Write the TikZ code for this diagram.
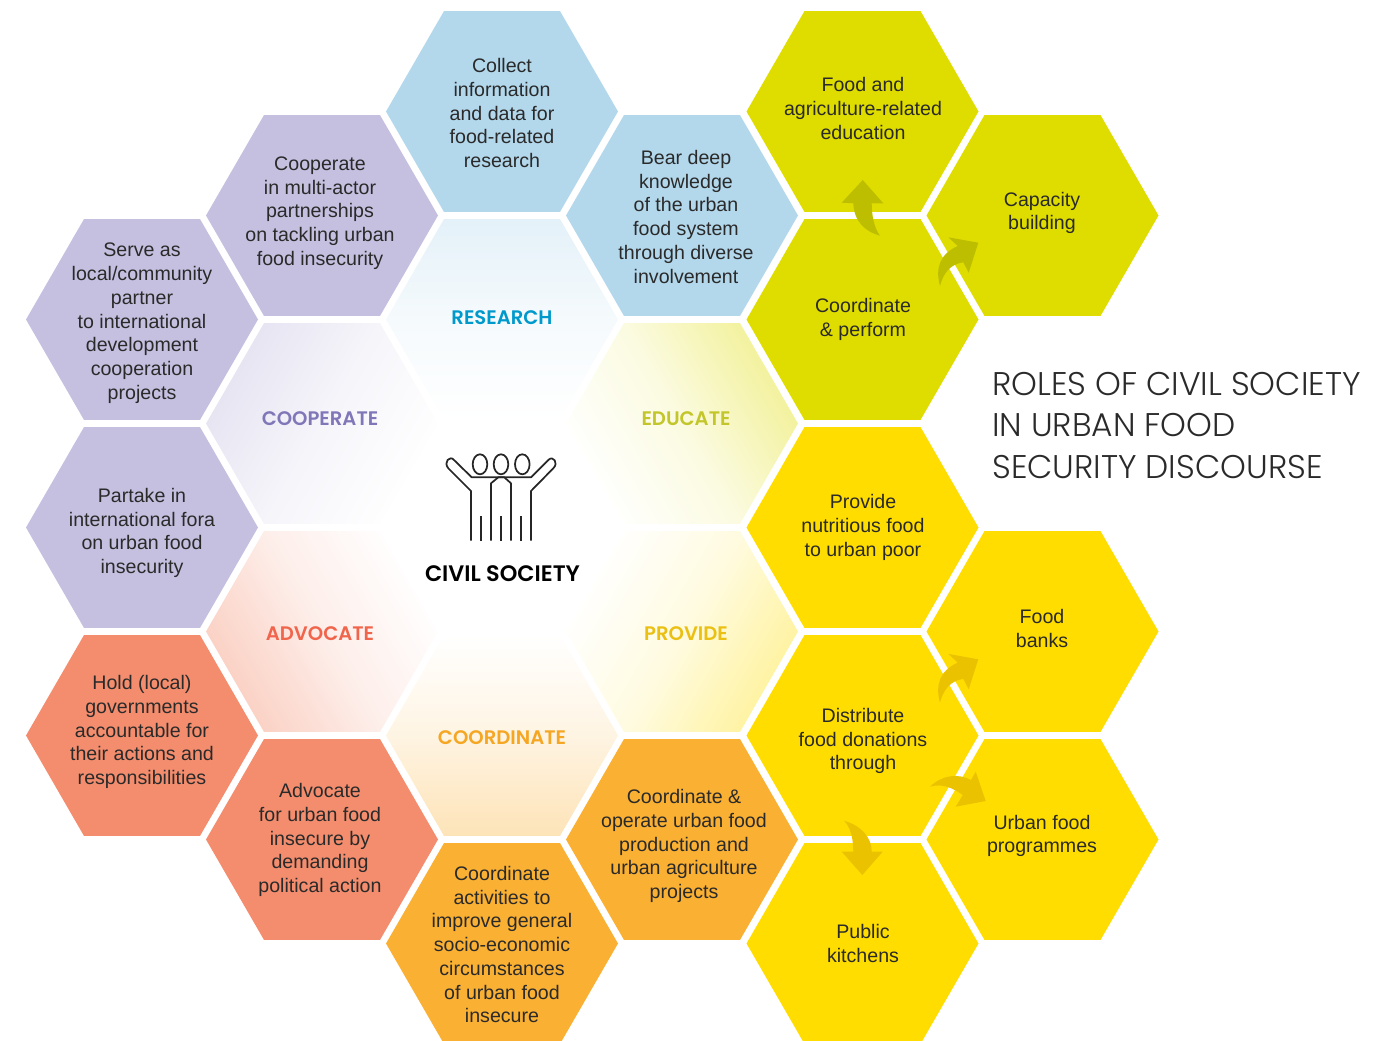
\documentclass[tikz,border=0pt]{standalone}
\usepackage{fontspec}
\setmainfont{Liberation Sans}
\newfontfamily\headfont{Poppins Light}
\newfontfamily\labelfont{Poppins SemiBold}
\usetikzlibrary{shapes.geometric}
\definecolor{cblue}{HTML}{B3D8EC}
\definecolor{clav}{HTML}{C5C0E0}
\definecolor{csalm}{HTML}{F48D6E}
\definecolor{corg}{HTML}{FAB033}
\definecolor{cyel}{HTML}{FFDD00}
\definecolor{coli}{HTML}{DFDC00}
\definecolor{aoli}{HTML}{BEBE00}
\definecolor{ayel}{HTML}{EBC200}
\definecolor{ink}{HTML}{2A2A2A}
\definecolor{tresearch}{HTML}{0099CC}
\definecolor{tcooperate}{HTML}{7F77B8}
\definecolor{teducate}{HTML}{C3C62A}
\definecolor{tadvocate}{HTML}{F0654C}
\definecolor{tprovide}{HTML}{EBC014}
\definecolor{tcoordinate}{HTML}{F5A623}
\tikzset{
  hexcell/.style={regular polygon,regular polygon sides=6,minimum size=174pt,inner sep=0pt,outer sep=0pt,draw=none},
  cell/.style={text=ink,align=center,inner sep=0pt,font=\fontsize{14.7pt}{17.82pt}\selectfont},
  lab/.style={inner sep=0pt,font=\labelfont\fontsize{14.7pt}{16pt}\selectfont},
  icon/.style={draw=black!85,line width=1.3pt,line join=round,fill=none},
  blockolive/.style={fill=aoli,draw=none},
  blockyel/.style={fill=ayel,draw=none}
}
\begin{document}
\begin{tikzpicture}[x=0.75pt,y=-0.75pt]
\useasboundingbox (0,0) rectangle (1389,1041);
% outer cells
\node[hexcell,fill=cblue] (collect) at (502,111.5) {};
\node[hexcell,fill=cblue] (bear) at (682,215.5) {};
\node[hexcell,fill=clav] (coop) at (322,215.5) {};
\node[hexcell,fill=clav] (serve) at (142,319.5) {};
\node[hexcell,fill=clav] (partake) at (142,527.5) {};
\node[hexcell,fill=csalm] (hold) at (142,735.5) {};
\node[hexcell,fill=csalm] (advfor) at (322,839.5) {};
\node[hexcell,fill=corg] (coact) at (502,943.5) {};
\node[hexcell,fill=corg] (coop2) at (682,839.5) {};
\node[hexcell,fill=coli] (agri) at (862.5,111.5) {};
\node[hexcell,fill=coli] (perform) at (862.5,319.5) {};
\node[hexcell,fill=coli] (capacity) at (1042.5,215.5) {};
\node[hexcell,fill=cyel] (nutri) at (862.5,527.5) {};
\node[hexcell,fill=cyel] (distrib) at (862.5,735.5) {};
\node[hexcell,fill=cyel] (public) at (862.5,943.5) {};
\node[hexcell,fill=cyel] (banks) at (1042.5,631.5) {};
\node[hexcell,fill=cyel] (urban) at (1042.5,839.5) {};
% inner cells
\node[hexcell,top color=cblue!36,bottom color=white,middle color=cblue!13] (iresearch) at (502,319.5) {};
\node[hexcell,top color=clav!44,bottom color=white,middle color=clav!16,shading angle=60] (icoop) at (322,423.5) {};
\node[hexcell,top color=coli!40,bottom color=white,middle color=coli!12,shading angle=-60] (ieduc) at (682,423.5) {};
\node[hexcell,top color=csalm!42,bottom color=white,middle color=csalm!15,shading angle=120] (iadv) at (322,631.5) {};
\node[hexcell,top color=cyel!38,bottom color=white,middle color=cyel!12,shading angle=-120] (iprov) at (682,631.5) {};
\node[hexcell,top color=corg!35,bottom color=white,middle color=corg!14,shading angle=180] (icoord) at (502,735.5) {};
% cell texts
\node[cell] (tcollect) at (502,113.2) {Collect\\information\\and data for\\food-related\\research};
\node[cell] (tbear) at (686,216.8) {Bear deep\\knowledge\\of the urban\\food system\\through diverse\\involvement};
\node[cell] (tcoop) at (320,213) {Cooperate\\in multi-actor\\partnerships\\on tackling urban\\food insecurity};
\node[cell] (tserve) at (142,323.3) {Serve as\\local/community\\partner\\to international\\development\\cooperation\\projects};
\node[cell] (tpartake) at (142,533) {Partake in\\international fora\\on urban food\\insecurity};
\node[cell] (thold) at (142,732) {Hold (local)\\governments\\accountable for\\their actions and\\responsibilities};
\node[cell] (tadv) at (320,840) {Advocate\\for urban food\\insecure by\\demanding\\political action};
\node[cell] (tcoact) at (502,944.7) {Coordinate\\activities to\\improve general\\socio-economic\\circumstances\\of urban food\\insecure};
\node[cell] (tcoop2) at (684,846) {Coordinate \&\\operate urban food\\production and\\urban agriculture\\projects};
\node[cell] (tagri) at (863,108.5) {Food and\\agriculture-related\\education};
\node[cell] (tperf) at (863,319.3) {Coordinate\\\& perform};
\node[cell] (tcap) at (1042,213) {Capacity\\building};
\node[cell] (tnutri) at (863,527.5) {Provide\\nutritious food\\to urban poor};
\node[cell] (tdist) at (863,741) {Distribute\\food donations\\through};
\node[cell] (tbanks) at (1042,628.5) {Food\\banks};
\node[cell] (turban) at (1042,836) {Urban food\\programmes};
\node[cell] (tpublic) at (863,943.5) {Public\\kitchens};
% inner labels
\node[lab,text=tresearch] (lresearch) at (502,318) {RESEARCH};
\node[lab,text=tcooperate] (lcoop) at (320,419) {COOPERATE};
\node[lab,text=teducate] (leduc) at (686,419) {EDUCATE};
\node[lab,text=tadvocate] (ladv) at (320,634) {ADVOCATE};
\node[lab,text=tprovide] (lprov) at (686,634) {PROVIDE};
\node[lab,text=tcoordinate] (lcoord) at (502,738) {COORDINATE};
\node[inner sep=0pt,font=\labelfont\fontsize{16.8pt}{18pt}\selectfont] (lcivil) at (502.5,574) {CIVIL SOCIETY};
% title
\node[anchor=west,align=left,inner sep=0pt,text=ink,font=\headfont\fontsize{24.6pt}{31.1pt}\selectfont] (title) at (992,425.5) {ROLES OF CIVIL SOCIETY\\IN URBAN FOOD\\SECURITY DISCOURSE};
% icon
\draw[icon] (471,540.7) -- (471,491) -- (448.3,468.3) .. controls (443,462) and (450,455) .. (454,460) -- (471.7,477.3) -- (531,477.3) -- (548.3,460) .. controls (553,455) and (559,463) .. (553.3,468.3) -- (531,491) -- (531,540.7);
\draw[icon] (491,540.7) -- (491,483.3) -- (498.3,477.3) -- (504.3,477.3) -- (511,483.3) -- (511,540.7);
\draw[icon] (481,516) -- (481,540.7);
\draw[icon] (501,516) -- (501,540.7);
\draw[icon] (521,516) -- (521,540.7);
\draw[icon] (480,464.3) ellipse [x radius=7.3,y radius=10];
\draw[icon] (501,464.3) ellipse [x radius=7.3,y radius=10];
\draw[icon] (522.3,464.3) ellipse [x radius=7.3,y radius=10];
% block arrows
\fill[blockolive] (862.7,180) -- (883.3,203.3) -- (871.7,203.3) .. controls (871.7,215) and (874,228) .. (880,235.7) .. controls (866,232) and (854,222) .. (853.3,203.3) -- (841.7,202.7) -- cycle;
\fill[blockolive] (978.3,242.7) -- (968.7,272.7) -- (963.3,262.3) .. controls (950,264) and (943,274) .. (940,286) .. controls (935,268) and (940,254) .. (957.7,246) -- (948.3,237.3) -- cycle;
\fill[blockyel] (978.3,659.3) -- (968.7,689.3) -- (963.3,678.9) .. controls (950,680.6) and (943,690.6) .. (940,702.6) .. controls (935,684.6) and (940,670.6) .. (957.7,662.6) -- (948.3,653.9) -- cycle;
\fill[blockyel] (985.7,801) -- (955.7,806.7) -- (962.7,795) .. controls (953,788) and (942,783) .. (930,786.7) .. controls (942,775) and (958,773) .. (971,780) -- (975.7,771.7) -- cycle;
\fill[blockyel] (862.3,875) -- (841.7,851.7) -- (853.3,851.7) .. controls (853,838) and (851,828) .. (844,820.7) .. controls (862,826) and (871.7,838) .. (871.7,851.7) -- (882.7,851.7) -- cycle;
\end{tikzpicture}
\end{document}
